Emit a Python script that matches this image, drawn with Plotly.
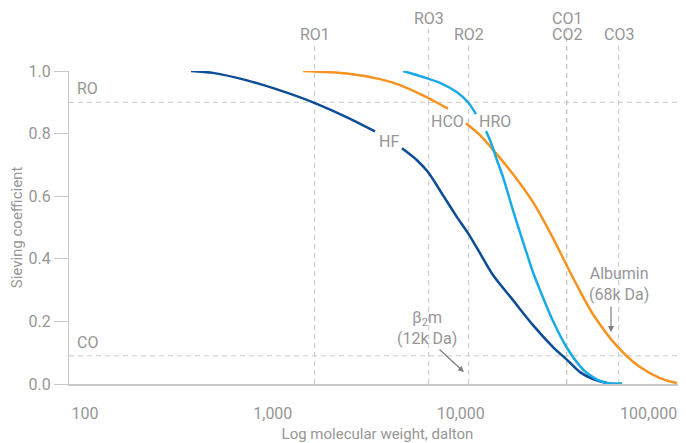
import numpy as np
import plotly.graph_objects as go

# ---- data (molecular weight in Da, sieving coefficient) ----
hf_mw = [367, 480, 729, 1092, 1637, 2483, 3499, None, 4871, 5854, 6699, 8049, 9556, 10940,
         12660, 14850, 18980, 24260, 30990, 36790, 43130, 50600, 60060]
hf_sc = [1.0, 0.994, 0.970, 0.938, 0.900, 0.852, 0.807, None, 0.753, 0.715, 0.677, 0.603, 0.533, 0.482,
         0.418, 0.348, 0.268, 0.188, 0.118, 0.077, 0.038, 0.016, 0.003]

hco_mw = [1448, 2483, 3720, 4753, 6301, 7572, 8557, None, 10670, 12660, 15220, 18300, 24260,
          30990, 36790, 43130, 50600, 67880, 90000, 115000, 141600]
hco_sc = [1.0, 0.992, 0.974, 0.955, 0.922, 0.897, 0.880, None, 0.833, 0.795, 0.741, 0.683, 0.581,
          0.466, 0.377, 0.297, 0.223, 0.121, 0.054, 0.019, 0.003]

hro_mw = [4931, 6301, 7759, 9556, 10940, 12060, None, 13630, 14320, 15600, 16800, 17640, 18980, 19930,
          22530, 24260, 26420, 30990, 36790, 43130, 47000, 57190, 72170]
hro_sc = [1.0, 0.981, 0.962, 0.932, 0.900, 0.862, None, 0.808, 0.779, 0.715, 0.661, 0.619, 0.555, 0.514,
          0.415, 0.357, 0.300, 0.201, 0.115, 0.057, 0.035, 0.006, 0.002]

# reference markers on the molecular-weight axis
marker_names = ["RO1", "RO3", "RO2", "CO1", "CO2", "CO3"]
marker_mw = [1670, 6760, 11030, 36660, 36660, 69320]
marker_row = [0, 1, 0, 1, 0, 0]  # 0 = lower label row, 1 = upper label row

# horizontal thresholds
ro_level = 0.9
co_level = 0.09

# curve labels
curve_names = ["HF", "HCO", "HRO"]
curve_label_mw = [4153, 8557, 15220]
curve_label_sc = [0.776, 0.839, 0.839]

x_tickvals = [100, 1000, 10000, 100000]
x_ticktext = ["100", "1,000", "10,000", "100,000"]
y_tickvals = [0.0, 0.2, 0.4, 0.6, 0.8, 1.0]

FONT = "Roboto, 'Noto Sans', sans-serif"
GREY = "#969696"
DASHC = "#c8c8c8"

fig = go.Figure()
for mw, sc, col, nm in [(hf_mw, hf_sc, "#0c4d95", "HF"),
                        (hco_mw, hco_sc, "#f7931e", "HCO"),
                        (hro_mw, hro_sc, "#1aaae6", "HRO")]:
    fig.add_trace(go.Scatter(x=mw, y=sc, mode="lines", name=nm,
                             line=dict(color=col, width=2.5, shape="spline", smoothing=0.8),
                             connectgaps=False, showlegend=False, hoverinfo="skip"))

shapes = []
annotations = []
# vertical marker lines + labels
for name, mw, row in zip(marker_names, marker_mw, marker_row):
    top = 1.134 if row == 1 else 1.086
    shapes.append(dict(type="line", xref="x", yref="paper", x0=mw, x1=mw, y0=0, y1=top,
                       line=dict(color=DASHC, width=1, dash="5px,4px"), layer="below"))
    annotations.append(dict(x=np.log10(mw), y=1.167 if row == 1 else 1.117, xref="x", yref="paper",
                            text=name, showarrow=False, xanchor="center", yanchor="middle",
                            font=dict(family=FONT, size=16, color=GREY)))

# horizontal thresholds
for lvl, lab in [(ro_level, "RO"), (co_level, "CO")]:
    shapes.append(dict(type="line", xref="paper", yref="y", x0=0, x1=1, y0=lvl, y1=lvl,
                       line=dict(color=DASHC, width=1, dash="5px,4px"), layer="below"))
    annotations.append(dict(x=np.log10(88.6), y=lvl, xref="x", yref="y", text=lab, showarrow=False,
                            xanchor="left", yanchor="bottom", yshift=2,
                            font=dict(family=FONT, size=16, color=GREY)))

# curve labels
for nm, mw, sc in zip(curve_names, curve_label_mw, curve_label_sc):
    annotations.append(dict(x=np.log10(mw), y=sc, xref="x", yref="y", text=nm, showarrow=False,
                            xanchor="center", yanchor="middle",
                            font=dict(family=FONT, size=16, color=GREY)))

# molecule annotations
annotations.append(dict(x=np.log10(6617), y=0.180, xref="x", yref="y",
                        text="β<sub>2</sub>m<br>(12k Da)", showarrow=False, align="center",
                        xanchor="center", yanchor="middle",
                        font=dict(family=FONT, size=16, color=GREY)))
annotations.append(dict(x=np.log10(10410), y=0.038, xref="x", yref="y", text="", showarrow=True,
                        ax=-26, ay=-24, arrowhead=2, arrowsize=1, arrowwidth=1.2,
                        arrowcolor="#7f7f7f", standoff=0, startstandoff=0))
annotations.append(dict(x=np.log10(69770), y=0.319, xref="x", yref="y",
                        text="Albumin<br>(68k Da)", showarrow=False, align="center",
                        xanchor="center", yanchor="middle",
                        font=dict(family=FONT, size=16, color=GREY)))
annotations.append(dict(x=np.log10(63080), y=0.166, xref="x", yref="y", text="", showarrow=True,
                        ax=0, ay=-27, arrowhead=2, arrowsize=1, arrowwidth=1.2,
                        arrowcolor="#7f7f7f", standoff=0, startstandoff=0))

# the page body adds an 8px margin; size the figure so the plot lands where the reference has it
fig.update_layout(
    width=678, height=435,
    margin=dict(l=61, r=0, t=63, b=59, autoexpand=False),
    paper_bgcolor="white", plot_bgcolor="white",
    font=dict(family=FONT, color=GREY),
    shapes=shapes, annotations=annotations,
    xaxis=dict(type="log", range=[1.9154, 5.1990], tickvals=x_tickvals, ticktext=x_ticktext,
               ticks="", showgrid=False, zeroline=False, showline=True, linecolor="#c8c8c8",
               linewidth=1.5, tickfont=dict(family=FONT, size=16, color=GREY),
               ticklabelstandoff=14, automargin=False,
               title=dict(text="Log molecular weight, dalton", standoff=10,
                          font=dict(family=FONT, size=15, color=GREY))),
    yaxis=dict(range=[0, 1.0], tickvals=y_tickvals, tickformat=".1f", ticks="outside", ticklen=14,
               tickcolor="#c8c8c8", showgrid=False, zeroline=False, showline=True,
               linecolor="#c8c8c8", tickfont=dict(family=FONT, size=16, color=GREY),
               automargin=False,
               title=dict(text="Sieving coefficient", standoff=4,
                          font=dict(family=FONT, size=15, color=GREY))),
)

fig.write_html("out.html")
